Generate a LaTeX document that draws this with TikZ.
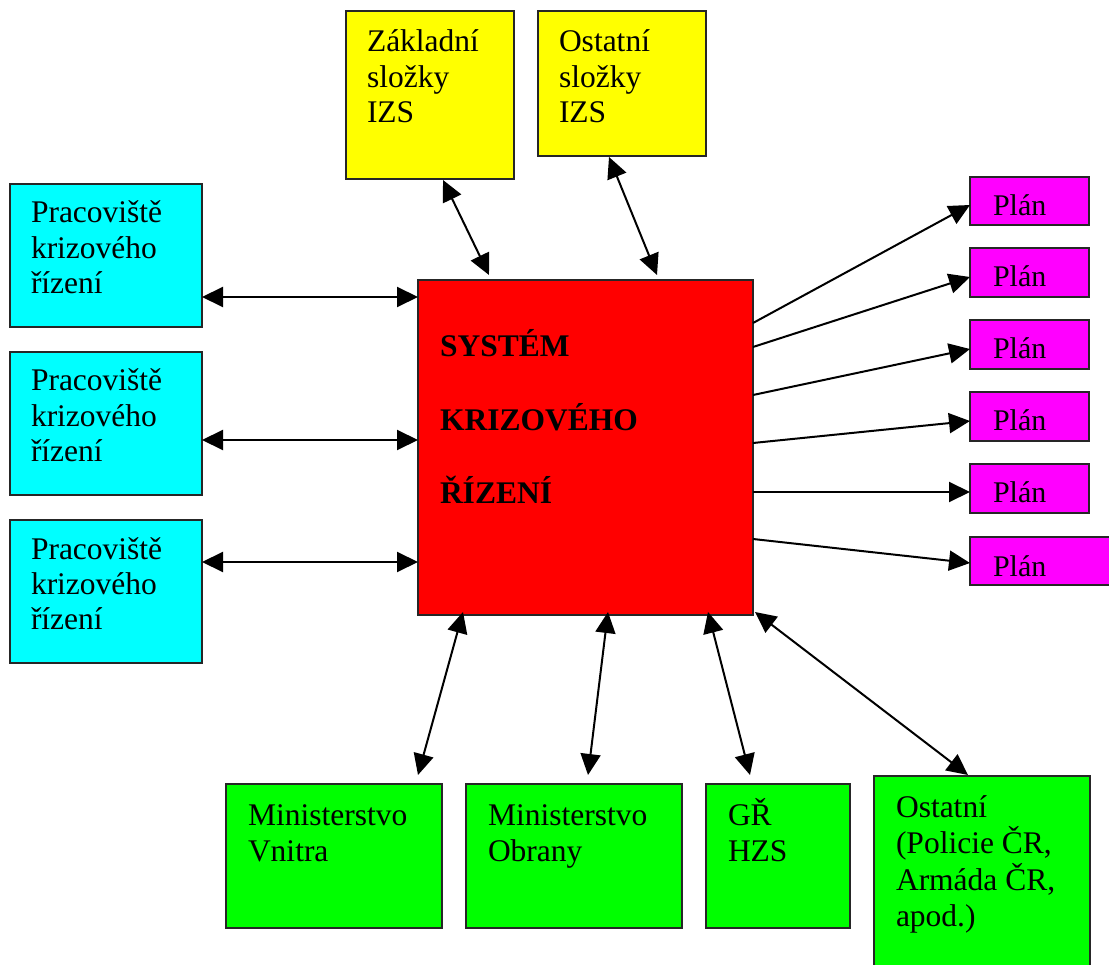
\documentclass[tikz,border=0pt]{standalone}
\usepackage{fontspec}
\setmainfont{Liberation Serif}
\usetikzlibrary{arrows.meta}
\definecolor{cyanc}{HTML}{00FFFF}
\definecolor{yellowc}{HTML}{FFFF00}
\definecolor{redc}{HTML}{FF0000}
\definecolor{magc}{HTML}{FF00FF}
\definecolor{greenc}{HTML}{00FF00}
% width, height, left margin, top pad, font, text
\newcommand\bxc[6]{\parbox[c][#2pt][t]{#1pt}{#5\raggedright\leftskip=#3pt\relax\lineskiplimit=-1000pt\relax\vspace*{#4pt}\rule{0pt}{30pt}#6}}
\newcommand\nf{\fontsize{31.5}{35.5}\selectfont}
\newcommand\gf{\fontsize{31.5}{36.5}\selectfont}
\newcommand\rf{\fontsize{31.5}{73.5}\selectfont\bfseries}
\newcommand\pf{\fontsize{30}{34}\selectfont}
\tikzset{
  box/.style={draw=black!85, line width=1.8pt, inner sep=0pt, outer sep=0pt, anchor=north west},
  arr/.style={-{Triangle[length=21pt,width=20pt]}, line width=2pt},
  dbl/.style={{Triangle[length=21pt,width=20pt]}-{Triangle[length=21pt,width=20pt]}, line width=2pt}
}
\begin{document}
\begin{tikzpicture}[x=1pt,y=-1pt]
\useasboundingbox (0,0) rectangle (1109,965);
\clip (0,0) rectangle (1109,965);
% left cyan boxes
\node[box, fill=cyanc] (c1) at (10,184) {\bxc{192}{143}{21}{9}{\nf}{Pracoviště\\krizového\\řízení}};
\node[box, fill=cyanc] (c2) at (10,352) {\bxc{192}{143}{21}{9}{\nf}{Pracoviště\\krizového\\řízení}};
\node[box, fill=cyanc] (c3) at (10,520) {\bxc{192}{143}{21}{9}{\nf}{Pracoviště\\krizového\\řízení}};
% yellow
\node[box, fill=yellowc] (y1) at (346,11) {\bxc{168}{168}{21}{11}{\nf}{Základní\\složky\\IZS}};
\node[box, fill=yellowc] (y2) at (538,11) {\bxc{168}{145}{21}{11}{\nf}{Ostatní\\složky\\IZS}};
% red
\node[box, fill=redc] (red) at (418,280) {\bxc{335}{335}{22}{47}{\rf}{SYSTÉM\\KRIZOVÉHO\\ŘÍZENÍ}};
% magenta
\node[box, fill=magc] (p1) at (970,177) {\bxc{119}{48}{23}{9}{\pf}{Plán}};
\node[box, fill=magc] (p2) at (970,248) {\bxc{119}{49}{23}{9}{\pf}{Plán}};
\node[box, fill=magc] (p3) at (970,320) {\bxc{119}{49}{23}{9}{\pf}{Plán}};
\node[box, fill=magc] (p4) at (970,392) {\bxc{119}{49}{23}{9}{\pf}{Plán}};
\node[box, fill=magc] (p5) at (970,464) {\bxc{119}{49}{23}{9}{\pf}{Plán}};
\node[box, fill=magc] (p6) at (970,537) {\bxc{150}{48}{23}{9}{\pf}{Plán}};
% green
\node[box, fill=greenc] (g1) at (226,784) {\bxc{216}{144}{22}{11}{\gf}{Ministerstvo\\Vnitra}};
\node[box, fill=greenc] (g2) at (466,784) {\bxc{216}{144}{22}{11}{\gf}{Ministerstvo\\Obrany}};
\node[box, fill=greenc] (g3) at (706,784) {\bxc{144}{144}{22}{11}{\gf}{GŘ\\HZS}};
\node[box, fill=greenc] (g4) at (874,776) {\bxc{216}{210}{22}{11}{\gf}{Ostatní\\(Policie ČR,\\Armáda ČR,\\apod.)}};
% connectors left
\draw[dbl] ([yshift=-41.5pt]c1.east) -- ([yshift=150.5pt]red.west);
\draw[dbl] ([yshift=-16.5pt]c2.east) -- ([yshift=7.5pt]red.west);
\draw[dbl] ([yshift=29.5pt]c3.east) -- ([yshift=-114.5pt]red.west);
% top
\draw[dbl] ([xshift=13pt,yshift=-1pt]y1.south) -- ([xshift=-96.5pt,yshift=5pt]red.north);
\draw[dbl] ([xshift=-13pt,yshift=-1pt]y2.south) -- ([xshift=71.5pt,yshift=5pt]red.north);
% right
\draw[arr] ([yshift=124.5pt]red.east) -- ([yshift=-4pt]p1.west);
\draw[arr] ([yshift=100.5pt]red.east) -- ([yshift=-4.5pt]p2.west);
\draw[arr] ([yshift=52.5pt]red.east) -- ([yshift=-4.5pt]p3.west);
\draw[arr] ([yshift=4.5pt]red.east) -- ([yshift=-4.5pt]p4.west);
\draw[arr] ([yshift=-44.5pt]red.east) -- ([yshift=-3.5pt]p5.west);
\draw[arr] ([yshift=-91.5pt]red.east) -- ([yshift=-2pt]p6.west);
% bottom
\draw[dbl] ([xshift=-122.5pt,yshift=3pt]red.south) -- ([xshift=84pt,yshift=9pt]g1.north);
\draw[dbl] ([xshift=22.5pt,yshift=3pt]red.south) -- ([xshift=14pt,yshift=9pt]g2.north);
\draw[dbl] ([xshift=122.5pt,yshift=3pt]red.south) -- ([xshift=-28pt,yshift=9pt]g3.north);
\draw[dbl] ([xshift=2pt,yshift=3pt]red.south east) -- ([xshift=-14pt,yshift=1pt]g4.north);
\end{tikzpicture}
\end{document}
